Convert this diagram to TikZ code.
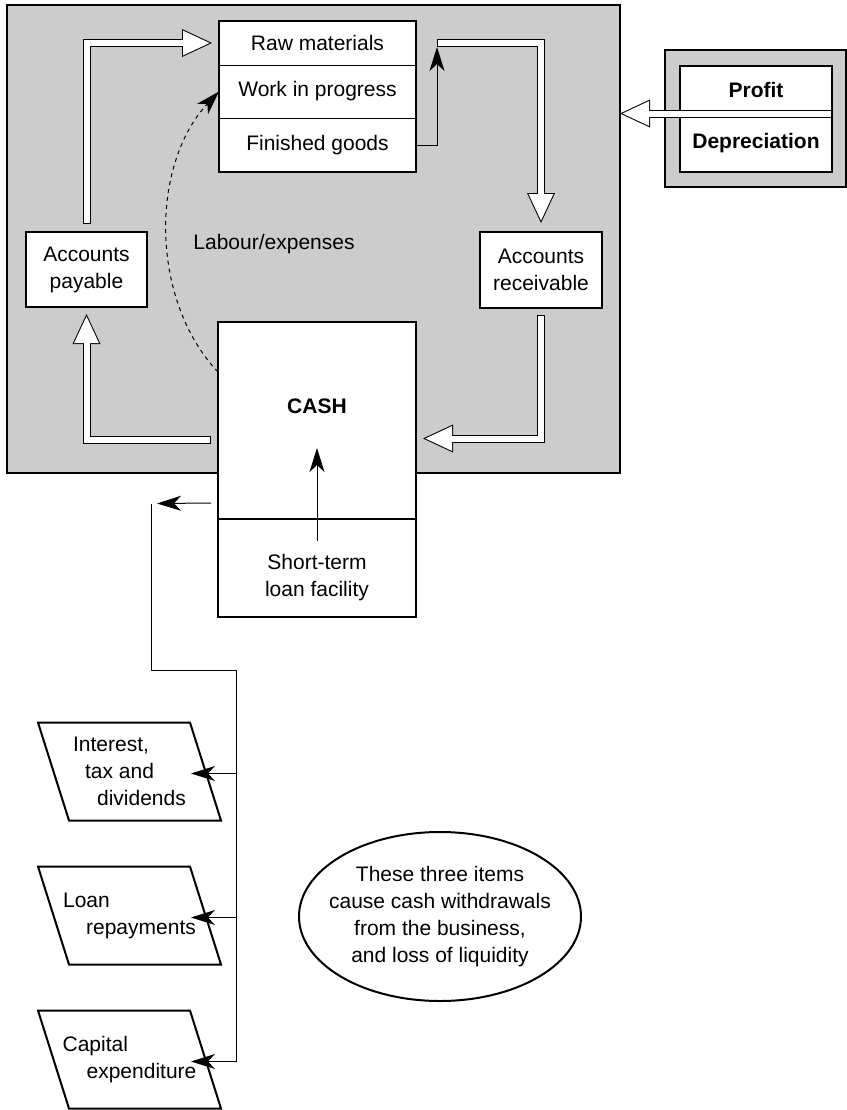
\documentclass[tikz,border=0pt]{standalone}
\usepackage{fontspec}
\setmainfont{Liberation Sans}
\usetikzlibrary{arrows.meta,positioning,shapes.geometric}
\newcommand{\figfont}{\fontsize{10.5pt}{13.5pt}\selectfont}
\newcommand{\hollowarrow}[1]{%
  \draw[hollowback] #1;
  \draw[hollowfront] #1;}

\begin{document}
\begin{tikzpicture}[
  x=0.5pt, y=-0.5pt,
  font=\figfont,
  box/.style={rectangle, draw=black, line width=1pt, fill=white, inner sep=0pt, outer sep=0pt, align=center},
  cell/.style={box, line width=0.5pt, minimum width=98.5pt},
  zone/.style={rectangle, draw=black, line width=1pt, fill=gray!40, inner sep=0pt, outer sep=0pt},
  io/.style={rectangle, inner sep=0pt, outer sep=0pt, align=left, minimum width=76pt, minimum height=49pt},
  slant/.style={draw=black, line width=1pt, line join=miter},
  note/.style={ellipse, draw=black, line width=1pt, inner xsep=-9pt, inner ysep=0pt, align=center, minimum width=141pt, minimum height=84.5pt},
  flow/.style={draw=black, line width=0.5pt, -{Stealth[length=12pt, width=7.5pt, inset=3.5pt]}},
  wire/.style={draw=black, line width=0.5pt},
  hollowback/.style={draw=black, line width=4pt, -{Triangle[length=15pt, width=14pt, line width=0pt]}},
  hollowfront/.style={draw=white, line width=3pt, shorten <=0.5pt, shorten >=1.2pt, -{Triangle[length=13.3pt, width=12.4pt, line width=0pt]}}
]
\useasboundingbox (0,0) rectangle (847,1110);

% business area and external funds
\node[zone, minimum width=306.5pt, minimum height=234pt] (firm) at (313.5,239) {};
\node[zone, minimum width=90.5pt, minimum height=68.5pt] (funds) at (755.5,118.5) {};
\node[box, minimum width=76pt, minimum height=23.75pt, font=\figfont\bfseries] (profit) at (756,89.75) {Profit};
\node[box, minimum width=76pt, minimum height=29.25pt, below=0pt of profit, font=\figfont\bfseries] (dep) {Depreciation};

% stocks
\node[cell, minimum height=22pt] (raw) at (317.5,43) {Raw materials};
\node[cell, minimum height=26.5pt, below=0pt of raw] (wip) {Work in progress};
\node[cell, minimum height=27pt, below=0pt of wip] (fin) {Finished goods};
\draw[line width=1pt] (raw.north west) rectangle (fin.south east);

\node[box, minimum width=60.5pt, minimum height=37.5pt] (pay) at (86.5,269.5) {Accounts\\payable};
\node[box, minimum width=61pt, minimum height=38pt] (rec) at (541,270) {Accounts\\receivable};
\node (labour) at (274,244) {Labour/expenses};

% cash and loan
\node[box, minimum width=99pt, minimum height=98.5pt] (cash) at (317,420.5) {};
\node[box, minimum width=99pt, minimum height=49pt, below=0pt of cash] (loan) {};
\node[font=\figfont\bfseries] (cashtext) at ([yshift=7pt]cash.center) {CASH};
\node[align=center] (loantext) at ([yshift=-5pt]loan.center) {Short-term\\loan facility};

% withdrawals
\node[io] (int) at (129.5,771.5) {Interest,\\\hspace*{6pt}tax and\\\hspace*{12pt}dividends};
\node[io, below=23pt of int] (rep) {Loan\\\hspace*{11.5pt}repayments};
\node[io, below=23pt of rep] (cap) {Capital\\\hspace*{12pt}expenditure};
\foreach \item in {int, rep, cap}
  \draw[slant] ([xshift=-7.75pt]\item.north west) -- ([xshift=-7.75pt]\item.north east)
    -- ([xshift=7.75pt]\item.south east) -- ([xshift=7.75pt]\item.south west) -- cycle;
\node[note] (remark) at (440,916.5) {These three items\\cause cash withdrawals\\from the business,\\and loss of liquidity};

% working capital cycle
\coordinate (bend) at (437,43);
\draw[flow] (fin.east) -| ([yshift=-2pt]bend);
\hollowarrow{([yshift=4pt]pay.north) |- ([xshift=-3.5pt]raw.west)}
\hollowarrow{(bend) -| ([yshift=4.5pt]rec.north)}
\hollowarrow{([yshift=-3.5pt]rec.south) |- ([xshift=3.5pt,yshift=-9pt]cash.east)}
\hollowarrow{([xshift=-3.5pt,yshift=-9.5pt]cash.west) -| ([yshift=-3.5pt]pay.south)}
\hollowarrow{(profit.south east) -- (firm.east |- profit.south)}
\draw[flow, dash pattern=on 2pt off 2pt] ([yshift=-25pt]cash.north west) .. controls (150,300) and (150,165) .. (wip.west);
\draw[flow] ([yshift=-11pt]loan.north) -- ([yshift=-13.75pt]cash.center);

% cash out
\coordinate (split) at (151,503.5);
\coordinate (trunk) at (236,670);
\draw[flow] ([xshift=-3.5pt,yshift=-41.25pt]cash.west) -- ([xshift=3pt]split);
\draw[wire] (split) |- (trunk) -- ([yshift=-1pt]trunk |- cap.east);
\foreach \item in {int, rep, cap}
  \draw[flow] ([yshift=-1pt]trunk |- \item.east) -- ([xshift=-7.25pt,yshift=-1pt]\item.east);
\end{tikzpicture}
\end{document}
